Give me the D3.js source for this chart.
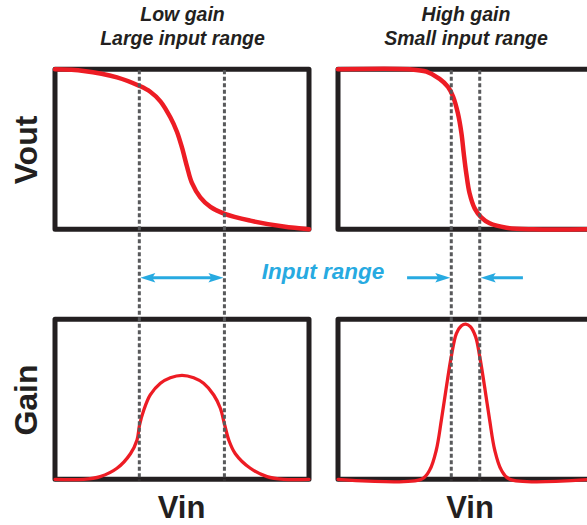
<!DOCTYPE html>
<html><head><meta charset="utf-8">
<script src="https://cdn.jsdelivr.net/npm/d3@7"></script>
<style>html,body{margin:0;padding:0;background:#fff;}svg{display:block;}</style>
</head><body>
<svg id="c" width="587" height="525"></svg>
<script>
// ---- data (Vin fraction 0..1 within each panel, output fraction 0..1) ----
const panelTitles = [["Low gain", "Large input range"], ["High gain", "Small input range"]];
const rowLabels = ["Vout", "Gain"];
const xLabel = "Vin";
const rangeLabel = "Input range";

const lowVoutX = [0, 0.113, 0.244, 0.333, 0.375, 0.415, 0.454, 0.480, 0.500, 0.520, 0.539, 0.572, 0.612, 0.668, 0.769, 0.900, 1.0];
const lowVoutY = [1.0, 0.99, 0.95, 0.896, 0.86, 0.80, 0.70, 0.61, 0.51, 0.39, 0.29, 0.20, 0.14, 0.096, 0.054, 0.017, 0.0];

const highVoutX = [0, 0.282, 0.348, 0.400, 0.433, 0.453, 0.472, 0.486, 0.495, 0.505, 0.518, 0.538, 0.564, 0.597, 0.663, 0.768, 1.0];
const highVoutY = [1.0, 1.0, 0.985, 0.94, 0.89, 0.83, 0.725, 0.60, 0.475, 0.35, 0.225, 0.131, 0.075, 0.0375, 0.01, 0.0, 0.0];

const lowGainX = [0, 0.113, 0.178, 0.244, 0.297, 0.323, 0.333, 0.349, 0.375, 0.415, 0.454, 0.500, 0.546, 0.585, 0.625, 0.651, 0.668, 0.684, 0.710, 0.769, 0.835, 0.900, 1.0];
const lowGainY = [0, 0, 0.017, 0.069, 0.16, 0.246, 0.34, 0.43, 0.527, 0.60, 0.635, 0.65, 0.635, 0.60, 0.527, 0.444, 0.34, 0.246, 0.16, 0.069, 0.017, 0, 0];

const highGainX = [0, 0.328, 0.361, 0.387, 0.407, 0.427, 0.446, 0.466, 0.486, 0.503, 0.521, 0.542, 0.558, 0.577, 0.597, 0.617, 0.643, 0.676, 1.0];
const highGainY = [0, 0, 0.058, 0.183, 0.37, 0.58, 0.767, 0.91, 0.96, 0.97, 0.954, 0.89, 0.767, 0.58, 0.37, 0.183, 0.058, 0, 0];

const lowRange = [0.332, 0.667];
const highRange = [0.446, 0.558];
const highArrowStarts = [0.272, 0.728];

// ---- layout ----
const svg = d3.select("#c");
const red = "#ed1c24", boxC = "#231f20", dashC = "#58595b", blue = "#27aae1";
const font = "'Liberation Sans', Arial, Helvetica, sans-serif";

const xLeft = d3.scaleLinear().domain([0, 1]).range([55, 309]);
const xRight = d3.scaleLinear().domain([0, 1]).range([338, 592]);
const yTop = d3.scaleLinear().domain([0, 1]).range([229.3, 69.3]);
const yBot = d3.scaleLinear().domain([0, 1]).range([479.3, 319.3]);

const panels = [
  {x: xLeft, y: yTop}, {x: xRight, y: yTop},
  {x: xLeft, y: yBot}, {x: xRight, y: yBot}
];

// boxes
panels.forEach(p => {
  svg.append("rect")
    .attr("x", p.x(0)).attr("y", p.y(1))
    .attr("width", p.x(1) - p.x(0)).attr("height", p.y(0) - p.y(1))
    .attr("fill", "none").attr("stroke", boxC).attr("stroke-width", 5)
    .attr("stroke-linejoin", "round");
});

// curves
function curve(xs, ys, p, w) {
  const pts = xs.map((v, i) => [v, ys[i]]);
  const line = d3.line().x(d => p.x(d[0])).y(d => p.y(d[1])).curve(d3.curveCatmullRom.alpha(0.5));
  svg.append("path").attr("d", line(pts)).attr("fill", "none")
    .attr("stroke", red).attr("stroke-width", w).attr("stroke-linecap", "round");
}
curve(lowVoutX, lowVoutY, panels[0], 4.5);
curve(highVoutX, highVoutY, panels[1], 4.5);
curve(lowGainX, lowGainY, panels[2], 3.3);
curve(highGainX, highGainY, panels[3], 3.3);

// dashed lines
function dashes(range, xs) {
  range.forEach(v => {
    svg.append("line")
      .attr("x1", xs(v)).attr("x2", xs(v))
      .attr("y1", yTop(1) + 1).attr("y2", yBot(0) + 1)
      .attr("stroke", dashC).attr("stroke-width", 3)
      .attr("stroke-dasharray", "4,2.5");
  });
}
dashes(lowRange, xLeft);
dashes(highRange, xRight);

// arrows
const arrowY = 277.7;
function head(tipX, dir) { // dir = +1 pointing right, -1 pointing left
  const L = 15, H = 4.8;
  svg.append("path")
    .attr("d", `M${tipX},${arrowY} L${tipX - dir * L},${arrowY - H} L${tipX - dir * L * 0.8},${arrowY} L${tipX - dir * L},${arrowY + H} Z`)
    .attr("fill", blue);
}
function shaft(x1, x2) {
  svg.append("line").attr("x1", x1).attr("x2", x2)
    .attr("y1", arrowY).attr("y2", arrowY)
    .attr("stroke", blue).attr("stroke-width", 3);
}
const la = xLeft(lowRange[0]) + 1, lb = xLeft(lowRange[1]) - 1;
shaft(la + 10, lb - 10); head(la, -1); head(lb, 1);
const ra = xRight(highRange[0]) - 1, rb = xRight(highRange[1]) + 1;
shaft(xRight(highArrowStarts[0]), ra - 10); head(ra, 1);
shaft(rb + 10, xRight(highArrowStarts[1])); head(rb, -1);

svg.append("text").text(rangeLabel)
  .attr("x", 323).attr("y", 279).attr("text-anchor", "middle")
  .attr("font-family", font).attr("font-weight", "bold").attr("font-style", "italic")
  .attr("font-size", 22.5).attr("fill", blue);

// titles
const titleX = [182.5, 466];
panelTitles.forEach((t, i) => {
  t.forEach((s, j) => {
    svg.append("text").text(s)
      .attr("x", titleX[i]).attr("y", j === 0 ? 21 : 44.5)
      .attr("text-anchor", "middle")
      .attr("font-family", font).attr("font-weight", "bold").attr("font-style", "italic")
      .attr("font-size", 19.5).attr("fill", boxC);
  });
});

// row labels
const rowY = [150, 400];
rowLabels.forEach((s, i) => {
  svg.append("text").text(s)
    .attr("transform", `translate(37,${rowY[i]}) rotate(-90)`)
    .attr("text-anchor", "middle")
    .attr("font-family", font).attr("font-weight", "bold")
    .attr("font-size", 32).attr("fill", boxC);
});

// x labels
[181.5, 470].forEach(x => {
  svg.append("text").text(xLabel)
    .attr("x", x).attr("y", 518).attr("text-anchor", "middle")
    .attr("font-family", font).attr("font-weight", "bold")
    .attr("font-size", 31).attr("fill", boxC);
});
</script>
</body></html>
